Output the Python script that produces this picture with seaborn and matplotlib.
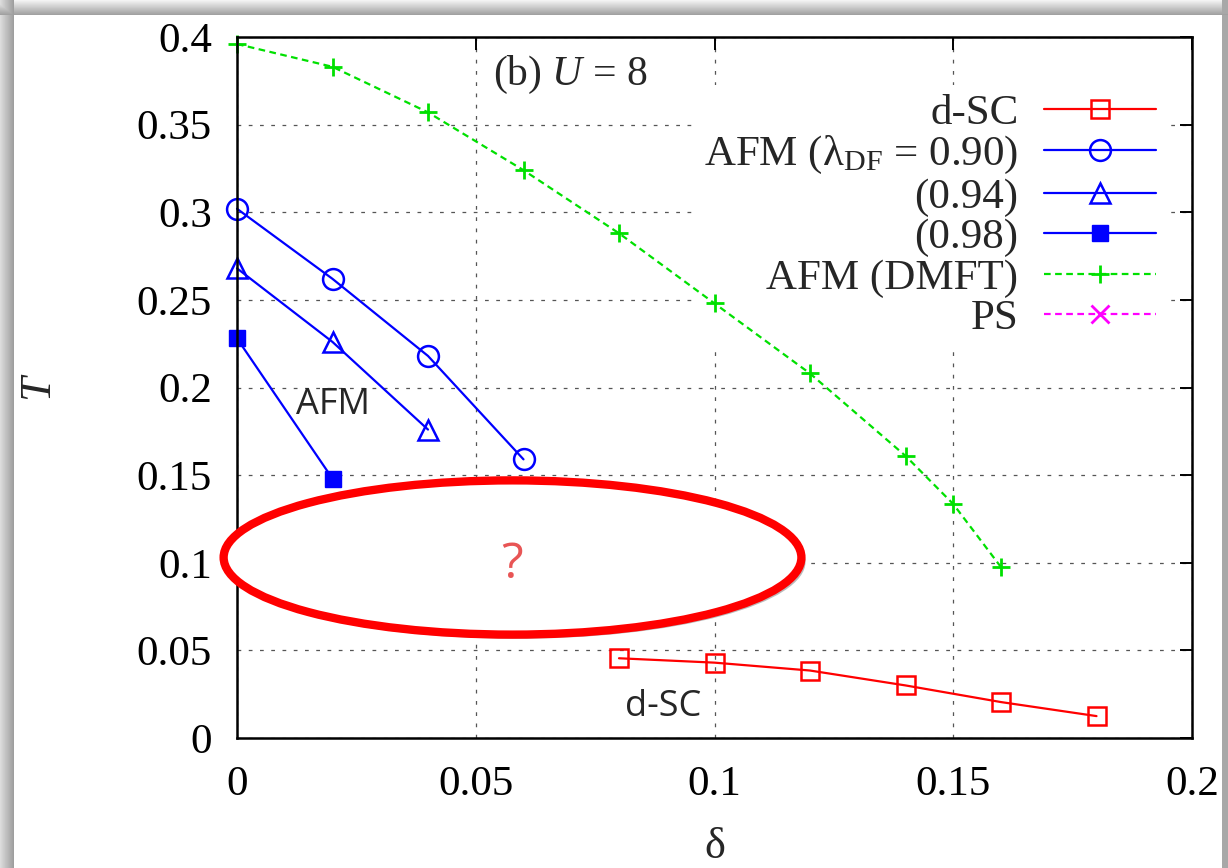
import numpy as np
import matplotlib
matplotlib.use("Agg")
import matplotlib.pyplot as plt
import matplotlib.patches as mpatches
import matplotlib.patheffects as pe
import seaborn as sns

sns.set_theme(style="white")
plt.rcParams['font.family'] = ['Liberation Serif', 'DejaVu Serif']
plt.rcParams['mathtext.fontset'] = 'custom'
plt.rcParams['mathtext.rm'] = 'Liberation Serif'
plt.rcParams['mathtext.it'] = 'Liberation Serif:italic'
plt.rcParams['mathtext.bf'] = 'Liberation Serif:bold'

# ---- data ----
dsc_delta = [0.08, 0.10, 0.12, 0.14, 0.16, 0.18]
dsc_T = [0.0455, 0.0430, 0.0385, 0.0300, 0.0205, 0.0125]

afm090_delta = [0.0, 0.02, 0.04, 0.06]
afm090_T = [0.302, 0.262, 0.218, 0.159]

afm094_delta = [0.0, 0.02, 0.04]
afm094_T = [0.268, 0.226, 0.176]

afm098_delta = [0.0, 0.02]
afm098_T = [0.228, 0.148]

dmft_delta = [0.0, 0.02, 0.04, 0.06, 0.08, 0.10, 0.12, 0.14, 0.15, 0.16]
dmft_T = [0.396, 0.383, 0.357, 0.324, 0.288, 0.248, 0.208, 0.161, 0.1335, 0.0975]

ps_delta = []
ps_T = []

x_ticks = [0, 0.05, 0.1, 0.15, 0.2]
x_ticklabels = ["0", "0.05", "0.1", "0.15", "0.2"]
y_ticks = [0, 0.05, 0.1, 0.15, 0.2, 0.25, 0.3, 0.35, 0.4]
y_ticklabels = ["0", "0.05", "0.1", "0.15", "0.2", "0.25", "0.3", "0.35", "0.4"]

labels = ["d-SC", r"AFM (λ$_{\rm DF}$ = 0.90)", "(0.94)", "(0.98)", "AFM (DMFT)", "PS"]

RED = '#ff0000'
BLUE = '#0000ff'
GREEN = '#00e000'
MAG = '#ff00ff'

W, H = 1228, 868
fig = plt.figure(figsize=(W / 100, H / 100), dpi=100)
fig.patch.set_facecolor('white')

# ---- decorative frame background ----
bg = np.ones((H, W))
for i in range(14):
    v = 0.86 - 0.24 * i / 13
    bg[:, i] = np.minimum(bg[:, i], v)
for j in range(15):
    v = 0.95 - 0.32 * j / 14
    bg[j, :] = np.minimum(bg[j, :], v)
bg[:, W - 6:] = np.minimum(bg[:, W - 6:], 0.66)
bax = fig.add_axes([0, 0, 1, 1], zorder=-10)
bax.imshow(bg, cmap='gray', vmin=0, vmax=1, aspect='auto', interpolation='bilinear')
bax.axis('off')

ax = fig.add_axes([237 / W, 1 - 738 / H, (1192 - 237) / W, (738 - 37) / H])
ax.set_facecolor('white')

lw = 1.6
common = dict(ax=ax, lw=lw, clip_on=False, zorder=3)
sns.lineplot(x=dsc_delta, y=dsc_T, color=RED, marker='s', markersize=13,
             markerfacecolor='none', markeredgecolor=RED, markeredgewidth=1.8, label=labels[0], **common)
sns.lineplot(x=afm090_delta, y=afm090_T, color=BLUE, marker='o', markersize=15,
             markerfacecolor='none', markeredgecolor=BLUE, markeredgewidth=1.8, label=labels[1], **common)
sns.lineplot(x=afm094_delta, y=afm094_T, color=BLUE, marker='^', markersize=14,
             markerfacecolor='none', markeredgecolor=BLUE, markeredgewidth=1.8, label=labels[2], **common)
sns.lineplot(x=afm098_delta, y=afm098_T, color=BLUE, marker='s', markersize=12,
             markerfacecolor=BLUE, markeredgecolor=BLUE, markeredgewidth=1.0, label=labels[3], **common)
sns.lineplot(x=dmft_delta, y=dmft_T, color=GREEN, linestyle=(0, (3, 2)), marker='+',
             markersize=13, markeredgecolor=GREEN, markeredgewidth=2.0, label=labels[4], **common)
ps_line, = ax.plot(ps_delta, ps_T, color=MAG, lw=lw, linestyle=(0, (3, 2)), marker='x',
                   markersize=13, markeredgewidth=2.0, label=labels[5])

ax.set_xlim(0, 0.2)
ax.set_ylim(0, 0.4)
ax.set_xticks(x_ticks)
ax.set_xticklabels(x_ticklabels)
ax.set_yticks(y_ticks)
ax.set_yticklabels(y_ticklabels)
ax.tick_params(direction='in', length=9, width=1.4, top=True, right=True,
               labelsize=31, colors='black', pad=18)
ax.tick_params(axis='x', pad=20)
ax.set_axisbelow(True)
ax.grid(True, color='#555555', linestyle=(0, (3, 6)), linewidth=0.9)
for s in ax.spines.values():
    s.set_color('black')
    s.set_linewidth(1.8)
    s.set_zorder(5)

ax.set_xlabel('δ', fontsize=32, labelpad=16)
ax.set_ylabel('$T$', fontsize=32, labelpad=55)

handles, labs = ax.get_legend_handles_labels()
leg = ax.legend(handles, labs, loc='upper right', bbox_to_anchor=(0.994, 0.962),
                markerfirst=False, fontsize=31, handlelength=2.6, handletextpad=0.6,
                labelspacing=0.03, borderpad=0.2, frameon=True, fancybox=False,
                framealpha=1.0, facecolor='white', edgecolor='none')
leg.set_zorder(1.5)

ax.text(0.0697, 0.3786, '(b) $U$ = 8', fontsize=30, ha='center', va='center',
        bbox=dict(facecolor='white', edgecolor='none', pad=2), zorder=1.6)
ax.text(0.0201, 0.190, 'AFM', fontsize=26, family=['Open Sans', 'DejaVu Sans'],
        ha='center', va='center', zorder=3)
ax.text(0.0892, 0.0177, 'd-SC', fontsize=26, family=['Open Sans', 'DejaVu Sans'],
        ha='center', va='center', zorder=3)

ell = mpatches.Ellipse((0.0577, 0.1030), 0.1210, 0.0880, facecolor='white',
                       edgecolor=RED, linewidth=6, clip_on=False, zorder=6,
                       path_effects=[pe.withSimplePatchShadow(offset=(3, -3), shadow_rgbFace='#777777', alpha=0.5)])
ax.add_patch(ell)
ax.text(0.0576, 0.0985, '?', fontsize=36, color='#e85555', family=['Open Sans', 'DejaVu Sans'],
        ha='center', va='center', zorder=7)

fig.savefig('out.png', dpi=100)
